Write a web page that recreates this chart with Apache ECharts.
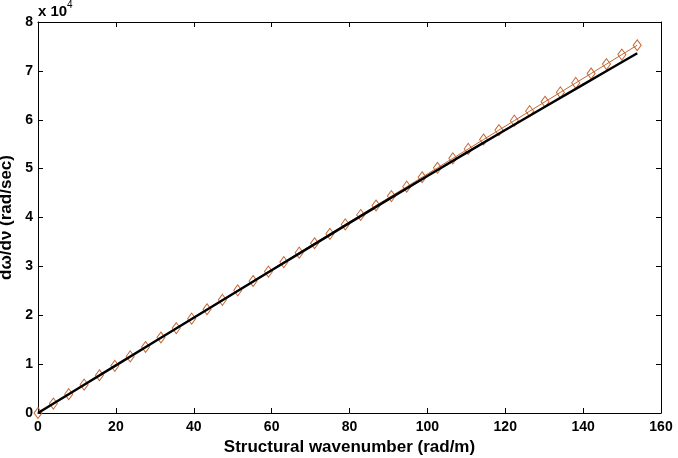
<!DOCTYPE html>
<html>
<head>
<meta charset="utf-8">
<script src="https://cdn.jsdelivr.net/npm/echarts@6/dist/echarts.min.js"></script>
<style>
html,body{margin:0;padding:0;background:#fff;}
#chart{width:678px;height:458px;}
</style>
</head>
<body>
<div id="chart"></div>
<script>
// Structural wavenumber (rad/m) for the marked series
var markerX = [0, 3.95, 7.89, 11.84, 15.78, 19.73, 23.68, 27.62, 31.57, 35.51,
  39.46, 43.41, 47.35, 51.30, 55.24, 59.19, 63.14, 67.08, 71.03, 74.97,
  78.92, 82.87, 86.81, 90.76, 94.70, 98.65, 102.60, 106.54, 110.49, 114.43,
  118.38, 122.33, 126.27, 130.22, 134.16, 138.11, 142.06, 146.00, 149.95, 153.89];
// dω/dν (rad/sec) for the marked series
var markerY = [0, 1930, 3860, 5790, 7720, 9650, 11580, 13510, 15440, 17370,
  19300, 21230, 23150, 25090, 27010, 28940, 30870, 32800, 34730, 36660,
  38590, 40520, 42450, 44380, 46310, 48240, 50170, 52100, 54030, 55960,
  57890, 59820, 61750, 63680, 65600, 67540, 69470, 71390, 73330, 75250];
// Black reference curve
var lineX = [0, 20, 40, 60, 80, 100, 120, 140, 153.9];
var lineY = [0, 9750, 19500, 29200, 38900, 48500, 57900, 67200, 73600];
// Axis ticks
var xTicks = [0, 20, 40, 60, 80, 100, 120, 140, 160];
var yTicks = [0, 1, 2, 3, 4, 5, 6, 7, 8];

var chart = echarts.init(document.getElementById('chart'), null, {renderer: 'canvas'});
var font = 'Liberation Sans, Arial, sans-serif';
var markerData = markerX.map(function (x, i) { return [x, markerY[i]]; });
var lineData = lineX.map(function (x, i) { return [x, lineY[i]]; });
var orange = '#c46632';

var axisCommon = {
  axisLine: {show: true, onZero: false, lineStyle: {color: '#000', width: 1}},
  axisTick: {show: true, inside: true, length: 5, lineStyle: {color: '#000', width: 1}},
  splitLine: {show: false}
};

chart.setOption({
  animation: false,
  backgroundColor: '#fff',
  grid: {left: 38, right: 17, top: 22, bottom: 45, containLabel: false, outerBoundsMode: 'none'},
  xAxis: [
    Object.assign({
      type: 'value', min: xTicks[0], max: xTicks[xTicks.length - 1], interval: 20,
      position: 'bottom',
      name: 'Structural wavenumber (rad/m)', nameLocation: 'middle', nameGap: 24,
      nameTextStyle: {fontFamily: font, fontWeight: 'bold', fontSize: 17, color: '#000'},
      axisLabel: {fontFamily: font, fontWeight: 'bold', fontSize: 14, color: '#000', margin: 7}
    }, axisCommon),
    Object.assign({
      type: 'value', min: xTicks[0], max: xTicks[xTicks.length - 1], interval: 20,
      position: 'top', axisLabel: {show: false}
    }, axisCommon)
  ],
  yAxis: [
    Object.assign({
      type: 'value', min: 0, max: 80000, interval: 10000, position: 'left',
      name: 'd\u03c9/d\u03bd (rad/sec)', nameLocation: 'middle', nameGap: 18, nameRotate: 90,
      nameTextStyle: {fontFamily: font, fontWeight: 'bold', fontSize: 17, color: '#000'},
      axisLabel: {fontFamily: font, fontWeight: 'bold', fontSize: 14, color: '#000', margin: 5,
        formatter: function (v) { return String(yTicks[Math.round(v / 10000)]); }}
    }, axisCommon),
    Object.assign({
      type: 'value', min: 0, max: 80000, interval: 10000, position: 'right',
      axisLabel: {show: false}
    }, axisCommon)
  ],
  series: [
    {
      type: 'line', data: markerData, xAxisIndex: 0, yAxisIndex: 0,
      symbol: 'diamond', symbolSize: [8, 11], showAllSymbol: true,
      lineStyle: {color: orange, width: 1},
      itemStyle: {color: 'rgba(255,255,255,0)', borderColor: orange, borderWidth: 1},
      z: 2
    },
    {
      type: 'line', data: lineData, xAxisIndex: 0, yAxisIndex: 0, smooth: 0.3,
      symbol: 'none', lineStyle: {color: '#000', width: 2.5}, z: 3
    }
  ],
  graphic: [
    {
      type: 'text', left: 38, top: 4,
      style: {
        text: 'x 10', fill: '#000',
        font: 'bold 15px ' + font
      }
    },
    {
      type: 'text', left: 67, top: 0,
      style: {
        text: '4', fill: '#000',
        font: '10px ' + font
      }
    }
  ]
});
</script>
</body>
</html>
